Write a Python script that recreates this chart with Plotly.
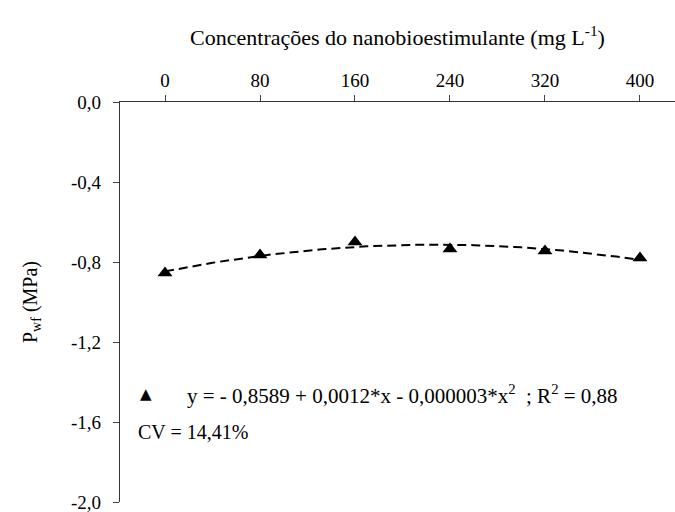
import numpy as np
import plotly.graph_objects as go

conc = [0, 80, 160, 240, 320, 400]
pwf = [-0.855, -0.765, -0.700, -0.735, -0.745, -0.780]
x_ticks = [0, 80, 160, 240, 320, 400]
y_ticks = [0.0, -0.4, -0.8, -1.2, -1.6, -2.0]
y_ticktext = ["0,0", "-0,4", "-0,8", "-1,2", "-1,6", "-2,0"]

# quadratic regression fitted to the observed points (trendline)
coef = np.polyfit(conc, pwf, 2)
xf = np.linspace(0, 400, 81)
yf = np.polyval(coef, xf)

FONT = "Liberation Serif, Times New Roman, serif"

fig = go.Figure()
fig.add_trace(go.Scatter(x=xf, y=yf, mode="lines",
                         line=dict(color="black", width=2, dash="9px,5px"),
                         showlegend=False, hoverinfo="skip"))
fig.add_trace(go.Scatter(x=conc, y=pwf, mode="markers",
                         marker=dict(symbol="triangle-up", size=13, color="black"),
                         showlegend=False))

fig.update_layout(
    width=675, height=512,
    margin=dict(l=120, r=0, t=102, b=10),
    plot_bgcolor="white", paper_bgcolor="white",
    font=dict(family=FONT, size=18, color="black"),
    xaxis=dict(side="top", range=[-37.9, 429.5], tickvals=x_ticks,
               ticks="outside", ticklen=6, tickcolor="#444",
               showline=True, linecolor="#333", linewidth=1.2,
               showgrid=False, zeroline=False, ticklabeloverflow="allow",
               tickfont=dict(family=FONT, size=19),
               title=dict(text="Concentrações do nanobioestimulante (mg L<sup>-1</sup>)",
                          font=dict(family=FONT, size=22), standoff=18)),
    yaxis=dict(range=[-2.0, 0.0], tickvals=y_ticks, ticktext=y_ticktext,
               ticks="outside", ticklen=6, tickcolor="#444",
               showline=True, linecolor="#333", linewidth=1.2,
               showgrid=False, zeroline=False, ticklabeloverflow="allow",
               ticklabelstandoff=8,
               tickfont=dict(family=FONT, size=19),
               title=dict(text="P<sub>wf</sub> (MPa)", font=dict(family=FONT, size=20),
                          standoff=28)),
)

fig.add_annotation(xref="paper", yref="y", x=(146 - 120) / 555, y=-1.46,
                   text="▲", showarrow=False, font=dict(family="DejaVu Sans", size=15),
                   xanchor="center", yanchor="middle")
fig.add_annotation(xref="paper", yref="y", x=(185 - 120) / 555, y=-1.46,
                   text="y = - 0,8589 + 0,0012*x - 0,000003*x<sup>2</sup>  ; R<sup>2</sup> = 0,88",
                   showarrow=False, font=dict(family=FONT, size=21),
                   xanchor="left", yanchor="middle")
fig.add_annotation(xref="paper", yref="y", x=(136 - 120) / 555, y=-1.65,
                   text="CV = 14,41%", showarrow=False, font=dict(family=FONT, size=20),
                   xanchor="left", yanchor="middle")

fig.write_html("out.html")
